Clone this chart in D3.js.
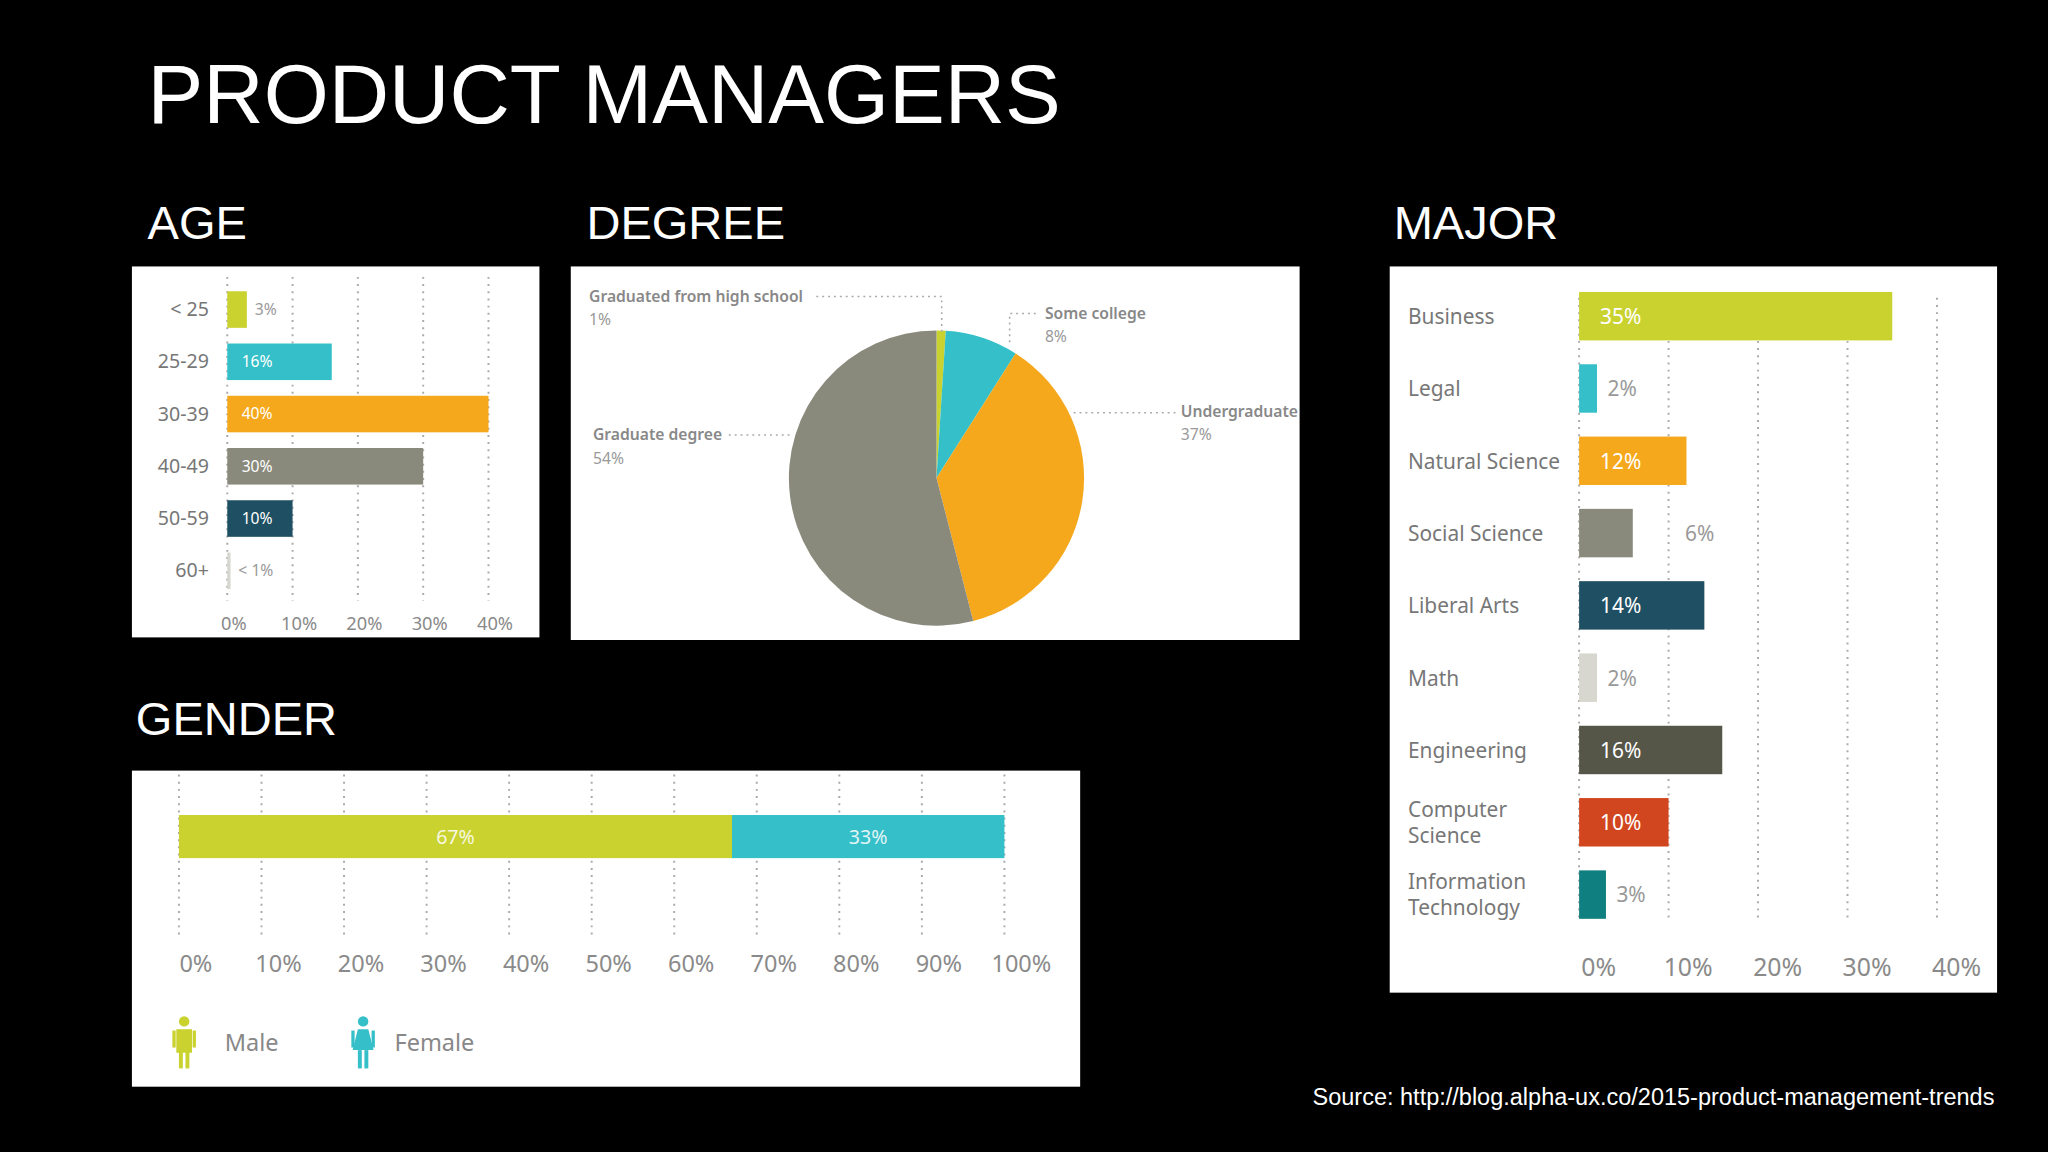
<!DOCTYPE html>
<html><head><meta charset="utf-8">
<script src="https://cdn.jsdelivr.net/npm/d3@7"></script>
<style>body{margin:0;background:#000}</style></head>
<body><svg id="c" width="2048" height="1152" viewBox="0 0 1568 882"></svg>
<script>
const ageCats=["< 25","25-29","30-39","40-49","50-59","60+"];
const ageVals=[3,16,40,30,10,0.5];
const ageLabels=["3%","16%","40%","30%","10%","< 1%"];
const ageColors=["#c9d22f","#35bfc9","#f5a81c","#8a8a7c","#1f4f63","#d7d7cf"];
const ageTicks=[0,10,20,30,40];

const degCats=["Graduated from high school","Some college","Undergraduate","Graduate degree"];
const degVals=[1,8,37,54];
const degColors=["#c9d22f","#35bfc9","#f5a81c","#8a8a7c"];

const genCats=["Male","Female"];
const genVals=[67,33];
const genColors=["#c9d22f","#35bfc9"];
const genTicks=[0,10,20,30,40,50,60,70,80,90,100];

const majCats=["Business","Legal","Natural Science","Social Science","Liberal Arts","Math","Engineering","Computer Science","Information Technology"];
const majVals=[35,2,12,6,14,2,16,10,3];
const majColors=["#c9d22f","#35bfc9","#f5a81c","#8a8a7c","#1f4f63","#d7d7cf","#555548","#d2461f","#0f7f7f"];
const majTicks=[0,10,20,30,40];

const svg=d3.select("#c");
const F="'Noto Sans',sans-serif", T="'Liberation Sans',Arial,sans-serif";
svg.append("rect").attr("width",1568).attr("height",882).attr("fill","#000");
const head=(t,x,y,s)=>svg.append("text").attr("x",x).attr("y",y).attr("fill","#fff").attr("font-family",T).attr("font-size",s).text(t);
head("PRODUCT MANAGERS",113,94,64);
head("AGE",113,183,36);head("DEGREE",449,183,36);head("MAJOR",1067,183,36);head("GENDER",104,563,36);
svg.append("text").attr("x",1527).attr("y",846).attr("text-anchor","end").attr("fill","#fff").attr("font-family",T).attr("font-size",18).text("Source: http://blog.alpha-ux.co/2015-product-management-trends");
const panel=(x,y,w,h)=>svg.append("rect").attr("x",x).attr("y",y).attr("width",w).attr("height",h).attr("fill","#fff");
const grey="#8a8a8a";
const grid=(g,x,y0,y1)=>g.append("line").attr("x1",x).attr("x2",x).attr("y1",y0).attr("y2",y1).attr("stroke","#aaa").attr("stroke-width",1.5).attr("stroke-dasharray","1.5,4");

// AGE
panel(101,204,312,284);
{const g=svg.append("g");
const x=d3.scaleLinear().domain([0,40]).range([174,374]);
const y=d3.scaleBand().domain(ageCats).range([217,457]).paddingInner(0.3).paddingOuter(0.15);
ageTicks.forEach(t=>{grid(g,x(t),212,460);g.append("text").attr("x",x(t)+5).attr("y",482).attr("text-anchor","middle").attr("fill",grey).attr("font-family",F).attr("font-size",14).text(t+"%");});
ageCats.forEach((c,i)=>{
 g.append("rect").attr("x",x(0)).attr("y",y(c)).attr("width",x(ageVals[i])-x(0)).attr("height",y.bandwidth()).attr("fill",ageColors[i]);
 g.append("text").attr("x",160).attr("y",y(c)+y.bandwidth()/2+5).attr("text-anchor","end").attr("fill","#777").attr("font-family",F).attr("font-size",15).text(c);
 const inside=ageVals[i]>=10;
 g.append("text").attr("x",inside?x(0)+11:x(ageVals[i])+6).attr("y",y(c)+y.bandwidth()/2+4).attr("fill",inside?"#fff":"#999").attr("font-family",F).attr("font-size",12).text(ageLabels[i]);
});}

// DEGREE
panel(437,204,558,286);
{const g=svg.append("g").attr("transform","translate(717,366)");
const pie=d3.pie().sort(null).value(d=>d)(degVals);
const arc=d3.arc().innerRadius(0).outerRadius(113);
g.selectAll("path").data(pie).join("path").attr("d",arc).attr("fill",(d,i)=>degColors[i]);
const dl=(pts)=>svg.append("polyline").attr("points",pts).attr("fill","none").attr("stroke","#aaa").attr("stroke-width",1.2).attr("stroke-dasharray","1.5,3");
dl("625,227 721,227 721,255");dl("773,262 773,240 795,240");dl("822,316 900,316");dl("558,333 605,333");
const lab=(t,p,x,y)=>{svg.append("text").attr("x",x).attr("y",y).attr("fill","#888").attr("font-family",F).attr("font-size",12).attr("font-weight","600").text(t);
 svg.append("text").attr("x",x).attr("y",y+18).attr("fill","#999").attr("font-family",F).attr("font-size",12).text(p);};
lab(degCats[0],degVals[0]+"%",451,231);lab(degCats[1],degVals[1]+"%",800,244);lab(degCats[2],degVals[2]+"%",904,319);lab(degCats[3],degVals[3]+"%",454,337);}

// GENDER
panel(101,590,726,242);
{const g=svg.append("g");
const x=d3.scaleLinear().domain([0,100]).range([137,769]);
genTicks.forEach(t=>{grid(g,x(t),593,716);g.append("text").attr("x",x(t)+13).attr("y",744).attr("text-anchor","middle").attr("fill",grey).attr("font-family",F).attr("font-size",18).text(t+"%");});
let acc=0;
genVals.forEach((v,i)=>{g.append("rect").attr("x",x(acc)).attr("y",624).attr("width",x(acc+v)-x(acc)).attr("height",33).attr("fill",genColors[i]);
 g.append("text").attr("x",(x(acc)+x(acc+v))/2).attr("y",646).attr("text-anchor","middle").attr("fill","#fff").attr("font-family",F).attr("font-size",15).attr("opacity",0.85).text(v+"%");acc+=v;});
const lx=[141,278],tx=[172,302];
genCats.forEach((c,i)=>{const p=g.append("g").attr("transform",`translate(${lx[i]},778)`).attr("fill",genColors[i]);
 p.append("circle").attr("cx",0).attr("cy",4).attr("r",4);
 if(i==0)p.append("rect").attr("x",-6).attr("y",10).attr("width",12).attr("height",18);
 else p.append("path").attr("d","M-4,10 L4,10 L8,26 L-8,26Z");
 p.append("rect").attr("x",-4).attr("y",26).attr("width",3).attr("height",14);p.append("rect").attr("x",1).attr("y",26).attr("width",3).attr("height",14);
 p.append("rect").attr("x",-9).attr("y",11).attr("width",2.5).attr("height",13);p.append("rect").attr("x",6.5).attr("y",11).attr("width",2.5).attr("height",13);
 g.append("text").attr("x",tx[i]).attr("y",805).attr("fill","#888").attr("font-family",F).attr("font-size",18).text(c);});}

// MAJOR
panel(1064,204,465,556);
{const g=svg.append("g");
const x=d3.scaleLinear().domain([0,40]).range([1209,1483]);
const y=d3.scaleBand().domain(majCats).range([218,709]).paddingInner(0.33).paddingOuter(0.1);
majTicks.forEach(t=>{grid(g,x(t),228,705);g.append("text").attr("x",x(t)+15).attr("y",747).attr("text-anchor","middle").attr("fill",grey).attr("font-family",F).attr("font-size",19).text(t+"%");});
majCats.forEach((c,i)=>{const cy=y(c)+y.bandwidth()/2;
 g.append("rect").attr("x",x(0)).attr("y",y(c)).attr("width",x(majVals[i])-x(0)).attr("height",y.bandwidth()).attr("fill",majColors[i]);
 const words=(c=="Computer Science"||c=="Information Technology")?c.split(" "):[c];
 words.forEach((w,k)=>g.append("text").attr("x",1078).attr("y",cy+6+(k-(words.length-1)/2)*20).attr("fill","#777").attr("font-family",F).attr("font-size",16).text(w));
 const inside=majVals[i]>=10;
 g.append("text").attr("x",inside?x(0)+16:Math.max(x(majVals[i])+8,x(0)+17)+(majVals[i]==6?32:0)).attr("y",cy+6).attr("fill",inside?"#fff":"#999").attr("font-family",F).attr("font-size",16).text(majVals[i]+"%");
});}
</script></body></html>
